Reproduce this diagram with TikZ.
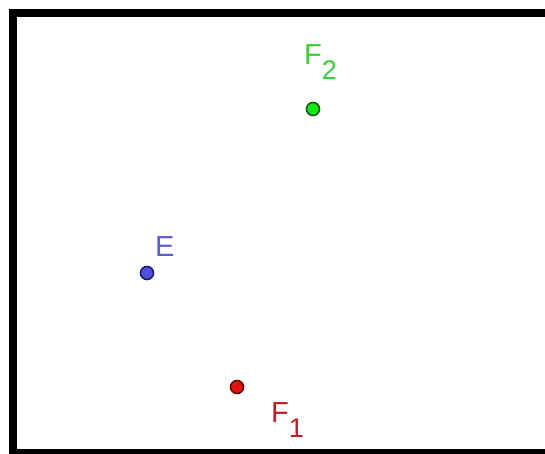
\documentclass[tikz,border=0pt]{standalone}
\usepackage{fontspec}
\setmainfont{Liberation Sans}
\definecolor{ptgreen}{RGB}{20,230,20}
\definecolor{ptgreendark}{RGB}{20,90,20}
\definecolor{lblgreen}{RGB}{60,205,60}
\definecolor{ptblue}{RGB}{80,80,225}
\definecolor{ptbluedark}{RGB}{30,30,110}
\definecolor{lblblue}{RGB}{95,90,210}
\definecolor{ptred}{RGB}{225,20,20}
\definecolor{ptreddark}{RGB}{100,10,10}
\definecolor{lblred}{RGB}{190,30,40}
\tikzset{
  pt/.style={circle, inner sep=0pt, minimum size=13pt, line width=1.6pt},
  lbl/.style={anchor=base west, inner sep=0pt, font=\fontsize{29}{30}\selectfont}
}

\begin{document}
\begin{tikzpicture}[x=1pt,y=-1pt]
    \useasboundingbox (0,0) rectangle (545,454);
    % frame
    \fill [black] (9,9) rectangle (545,17);
    \fill [black] (9,9) rectangle (17,454);
    \fill [black] (9,449) rectangle (545,454);
    % points
    \node [pt, draw=ptgreendark, fill=ptgreen] (ftwo) at (313,109) {};
    \node [pt, draw=ptbluedark, fill=ptblue] (e) at (147,273) {};
    \node [pt, draw=ptreddark, fill=ptred] (fone) at (237,387) {};
    % labels
    \node [lbl, text=lblgreen] (ftwolabel) at (304,65) {F\raisebox{-15pt}{\fontsize{27}{28}\selectfont 2}};
    \node [lbl, text=lblblue] (elabel) at (155,256) {E};
    \node [lbl, text=lblred] (fonelabel) at (271,422) {F\raisebox{-15pt}{\fontsize{27}{28}\selectfont 1}};
  \end{tikzpicture}
\end{document}
